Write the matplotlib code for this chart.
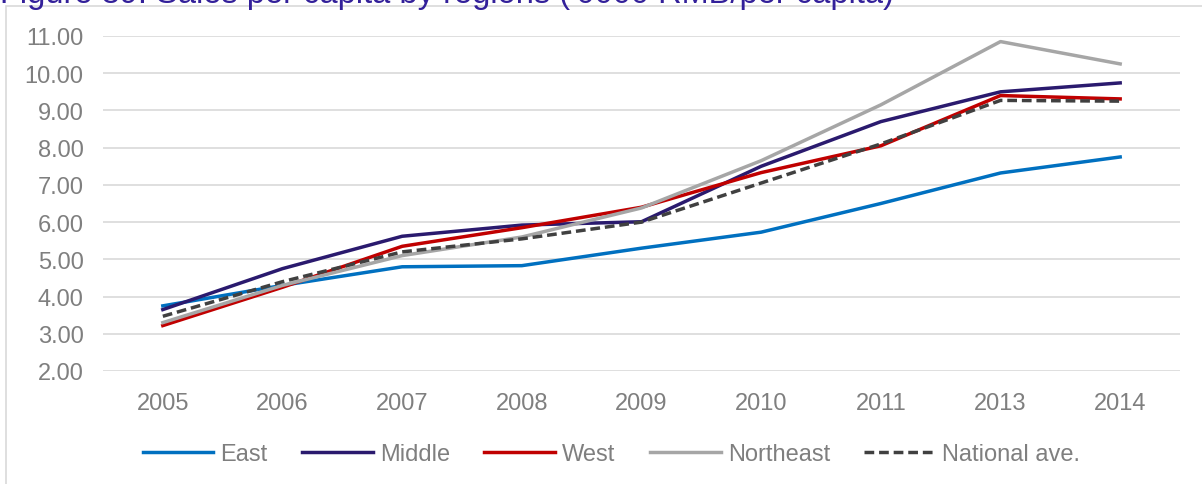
import matplotlib.pyplot as plt
from matplotlib.patches import Rectangle

# Sales per capita by region, '0000 RMB
years = ['2005', '2006', '2007', '2008', '2009', '2010', '2011', '2013', '2014']
east = [3.75, 4.30, 4.80, 4.83, 5.30, 5.73, 6.50, 7.32, 7.75]
middle = [3.65, 4.75, 5.62, 5.92, 6.01, 7.50, 8.70, 9.50, 9.74]
west = [3.22, 4.25, 5.35, 5.85, 6.40, 7.33, 8.05, 9.40, 9.31]
northeast = [3.30, 4.30, 5.10, 5.60, 6.38, 7.65, 9.15, 10.85, 10.25]
national = [3.47, 4.40, 5.20, 5.55, 6.00, 7.05, 8.10, 9.27, 9.25]

plt.rcParams['font.family'] = ['Liberation Sans', 'DejaVu Sans']

fig = plt.figure(figsize=(12.02, 4.85), dpi=100)
ax = fig.add_axes([103 / 1202, 1 - 372 / 485, (1180 - 103) / 1202, 335 / 485])

x = range(len(years))
ax.plot(x, east, color='#0070C0', lw=2.5, label='East')
ax.plot(x, middle, color='#2A1A6E', lw=2.5, label='Middle')
ax.plot(x, west, color='#C00000', lw=2.5, label='West')
ax.plot(x, northeast, color='#A6A6A6', lw=2.5, label='Northeast')
ax.plot(x, national, color='#404040', lw=2.5, ls=(0, (2.8, 1.4)), label='National ave.')

ax.set_xlim(-0.5, len(years) - 0.5)
ax.set_ylim(2, 11)
ax.set_yticks(range(2, 12))
ax.set_yticklabels([f'{v:.2f}' for v in range(2, 12)])
ax.set_xticks(list(x))
ax.set_xticklabels(years)
ax.grid(axis='y', color='#D9D9D9', lw=1.2)
ax.set_axisbelow(True)
for s in ax.spines.values():
    s.set_visible(False)
ax.tick_params(length=0, colors='#7F7F7F', labelsize=17)
ax.tick_params(axis='y', pad=14)
ax.tick_params(axis='x', pad=15)

ax.legend(loc='upper center', bbox_to_anchor=(0.472, -0.165), ncol=5, frameon=False,
          fontsize=17, labelcolor='#7F7F7F', handlelength=3.0, handletextpad=0.3,
          columnspacing=1.45, borderpad=0.2)

# outer chart border
fig.patches.append(Rectangle((6 / 1202, -0.01), 1.0, 1 - 7 / 485 + 0.01,
                             transform=fig.transFigure, fill=False,
                             edgecolor='#D9D9D9', lw=1.2))

fig.text(0.0, 1 - 2.5 / 485, "Figure 39: Sales per capita by regions ('0000 RMB/per capita)",
         color='#33209A', fontsize=23.5, va='baseline', ha='left')

fig.savefig('out.png', dpi=100)
